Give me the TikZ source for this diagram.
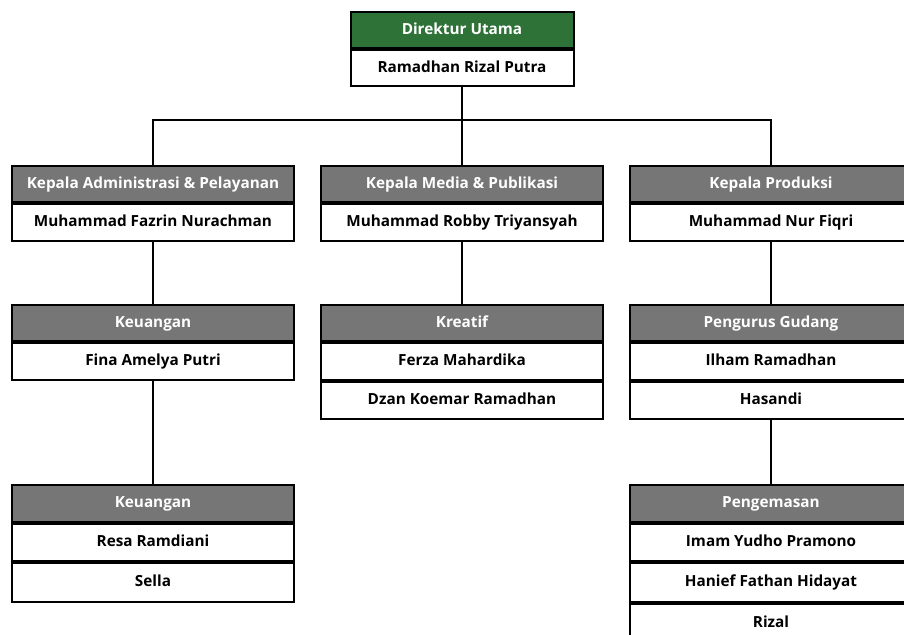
\documentclass[tikz,border=0pt]{standalone}
\usepackage{fontspec}
\setmainfont{Open Sans}
\definecolor{hgreen}{RGB}{46,114,56}
\definecolor{hgray}{RGB}{118,118,118}
\begin{document}
\begin{tikzpicture}[x=1pt,y=-1pt,
  box/.style={draw, line width=2pt, inner sep=0pt, minimum width=282pt, minimum height=37pt, text height=11.5pt, text depth=3pt, font=\fontsize{15.3}{18}\selectfont\bfseries},
  hdr/.style={box, fill=hgray, text=white},
  row/.style={box, fill=white, text=black, anchor=north},
  conn/.style={line width=2pt}]
\useasboundingbox (0,0) rectangle (904,634);
\clip (0,0) rectangle (904,634);
\coordinate (bus) at (462,120);
% Direktur
\node[hdr, fill=hgreen, minimum width=223pt, minimum height=36pt] (dh) at (462,30) {Direktur Utama};
\node[row, minimum width=223pt, minimum height=36pt] (dr) at (dh.south) {Ramadhan Rizal Putra};
% level 1
\node[hdr, minimum height=36pt] (ha) at (153,184) {Kepala Administrasi \& Pelayanan};
\node[row] (ra) at (ha.south) {Muhammad Fazrin Nurachman};
\node[hdr, minimum height=36pt] (hb) at (462,184) {Kepala Media \& Publikasi};
\node[row] (rb) at (hb.south) {Muhammad Robby Triyansyah};
\node[hdr, minimum height=36pt] (hc) at (771,184) {Kepala Produksi};
\node[row] (rc) at (hc.south) {Muhammad Nur Fiqri};
% level 2
\node[hdr, minimum height=36pt] (ka) at (153,323) {Keuangan};
\node[row] (ka1) at (ka.south) {Fina Amelya Putri};
\node[hdr, minimum height=36pt] (kb) at (462,323) {Kreatif};
\node[row] (kb1) at (kb.south) {Ferza Mahardika};
\node[row] (kb2) at (kb1.south) {Dzan Koemar Ramadhan};
\node[hdr, minimum height=36pt] (kc) at (771,323) {Pengurus Gudang};
\node[row] (kc1) at (kc.south) {Ilham Ramadhan};
\node[row] (kc2) at (kc1.south) {Hasandi};
% level 3
\node[hdr, minimum height=37pt] (la) at (153,503.5) {Keuangan};
\node[row] (la1) at (la.south) {Resa Ramdiani};
\node[row, minimum height=39pt] (la2) at (la1.south) {Sella};
\node[hdr, minimum height=37pt] (lc) at (771,503.5) {Pengemasan};
\node[row] (lc1) at (lc.south) {Imam Yudho Pramono};
\node[row, minimum height=39pt] (lc2) at (lc1.south) {Hanief Fathan Hidayat};
\node[row, minimum height=39pt] (lc3) at (lc2.south) {Rizal};
% lines
\draw[conn] (dr.south) -- (bus);
\draw[conn] (ha.north) |- (bus) -| (hc.north);
\draw[conn] (bus) -- (hb.north);
\draw[conn] (ra.south) -- (ka.north);
\draw[conn] (rb.south) -- (kb.north);
\draw[conn] (rc.south) -- (kc.north);
\draw[conn] (ka1.south) -- (la.north);
\draw[conn] (kc2.south) -- (lc.north);
\end{tikzpicture}
\end{document}
